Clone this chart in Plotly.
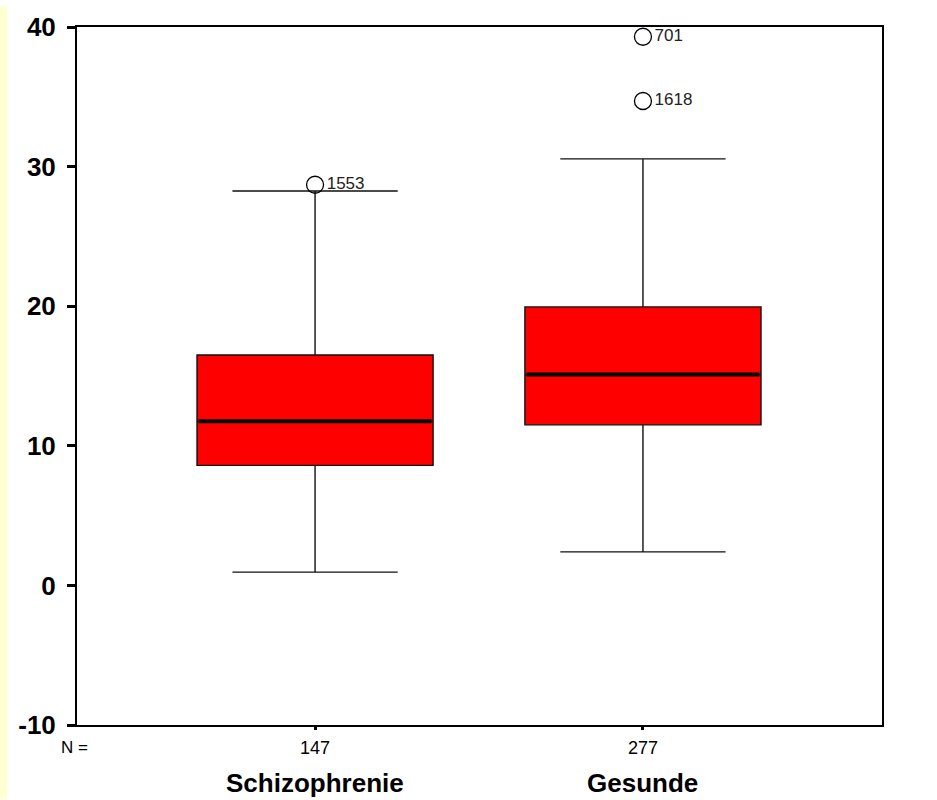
import plotly.graph_objects as go

categories = ["Schizophrenie", "Gesunde"]
n_labels = ["147", "277"]
q1 = [8.6, 11.5]
median = [11.75, 15.1]
q3 = [16.5, 19.95]
lower = [0.95, 2.4]
upper = [28.25, 30.55]
outlier_cat = [0, 1, 1]
outlier_val = [28.7, 39.3, 34.7]
outlier_ids = ["1553", "701", "1618"]
y_ticks = [-10, 0, 10, 20, 30, 40]

W, H = 937, 800
ml, mr, mt, mb = 77, 55, 21, 75
pw = W - ml - mr
ph = H - mt - mb
BOXW = 0.72
FONT = "Arial, Liberation Sans"

fig = go.Figure()
for i, c in enumerate(categories):
    fig.add_trace(go.Box(
        x=[i], q1=[q1[i]], median=[median[i]], q3=[q3[i]],
        lowerfence=[lower[i]], upperfence=[upper[i]],
        fillcolor="#FF0000", line=dict(color="#111", width=1.4),
        width=BOXW, whiskerwidth=0.7, boxpoints=False, showlegend=False,
        hoverinfo="skip",
    ))
    # thick median line like the original
    fig.add_trace(go.Scatter(
        x=[i - BOXW / 2 + 0.005, i + BOXW / 2 - 0.005], y=[median[i], median[i]],
        mode="lines", line=dict(color="black", width=4),
        showlegend=False, hoverinfo="skip",
    ))

fig.add_trace(go.Scatter(
    x=outlier_cat, y=outlier_val, mode="markers+text",
    marker=dict(symbol="circle-open", size=17, color="black", line=dict(width=1.3)),
    text=outlier_ids, textposition="middle right",
    textfont=dict(family=FONT, size=17, color="#222"),
    showlegend=False, cliponaxis=False,
))

fig.update_xaxes(range=[-0.726, 1.729], tickvals=[0, 1], showticklabels=False,
                 ticks="outside", ticklen=3, tickwidth=3, tickcolor="black",
                 showgrid=False, zeroline=False, showline=True, linecolor="black",
                 linewidth=2, mirror=True)
fig.update_yaxes(range=[-10, 40], tickvals=y_ticks,
                 ticktext=["<b>%d</b>" % v for v in y_ticks],
                 ticks="outside", ticklen=8, tickcolor="black", tickwidth=3,
                 ticklabelstandoff=6,
                 tickfont=dict(family=FONT, size=26, color="black"),
                 showgrid=False, zeroline=False, showline=True, linecolor="black",
                 linewidth=2, mirror=True)

annotations = []
annotations.append(dict(x=-3 / pw, y=-11 / ph, xref="paper", yref="paper", text="N =",
                        showarrow=False, xanchor="center", yanchor="top",
                        font=dict(family=FONT, size=17, color="black")))
for i, c in enumerate(categories):
    annotations.append(dict(x=i, y=-11 / ph, xref="x", yref="paper", text=n_labels[i],
                            showarrow=False, yanchor="top",
                            font=dict(family=FONT, size=18, color="black")))
    annotations.append(dict(x=i, y=-41 / ph, xref="x", yref="paper", text="<b>" + c + "</b>",
                            showarrow=False, yanchor="top",
                            font=dict(family=FONT, size=26, color="black")))

fig.update_layout(
    width=W, height=H, margin=dict(l=ml, r=mr, t=mt, b=mb),
    paper_bgcolor="white", plot_bgcolor="white",
    annotations=annotations,
    shapes=[dict(type="rect", xref="paper", yref="paper",
                 x0=-ml / pw, x1=-(ml - 7) / pw, y0=-mb / ph, y1=1 + mt / ph,
                 fillcolor="#FFFFD2", line=dict(width=0), layer="below")],
)

fig.write_html("out.html", config={"displayModeBar": False},
               post_script="document.body.style.margin='0';document.body.style.overflow='hidden';")
